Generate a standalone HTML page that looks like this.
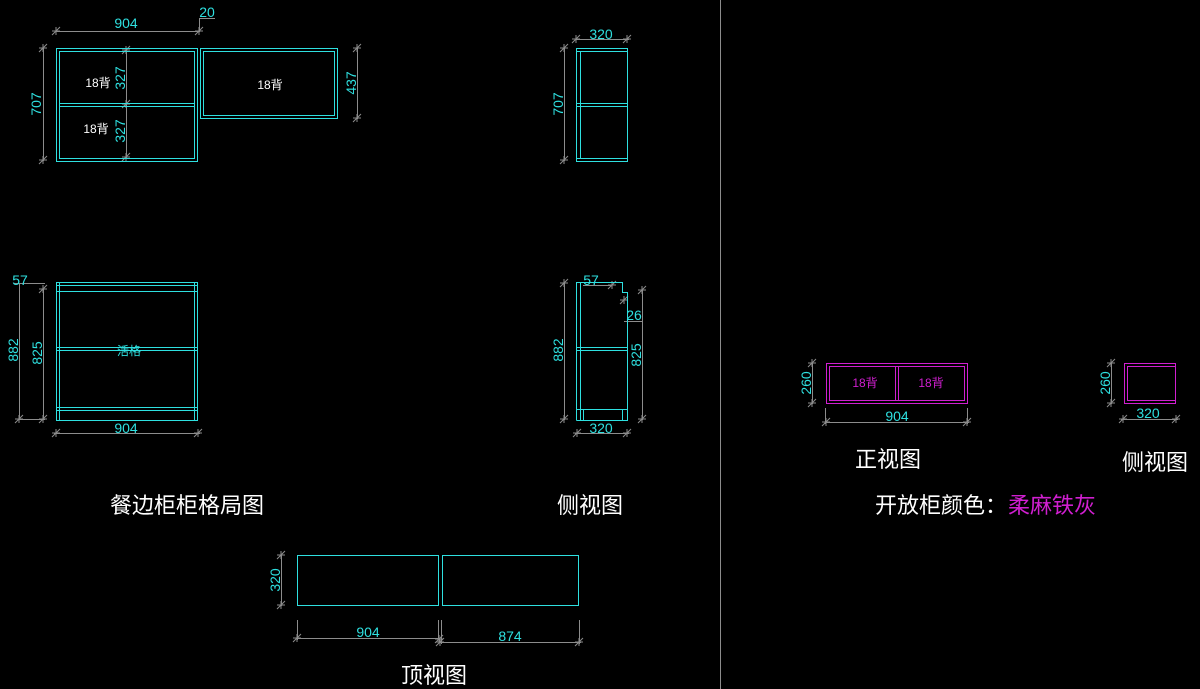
<!DOCTYPE html>
<html><head><meta charset="utf-8"><style>
html,body{margin:0;padding:0;background:#000;width:1200px;height:689px;overflow:hidden}
svg{display:block}
text{font-family:"Liberation Sans","Noto Sans CJK SC",sans-serif}
</style></head><body>
<svg width="1200" height="689" viewBox="0 0 1200 689" xmlns="http://www.w3.org/2000/svg">
<defs><path id="t" d="M-4,4 L4,-4 M0,-4 L0,4 M-4,0 L4,0" stroke="#8c8c8c" fill="none"/></defs>
<g fill="none" stroke="#8c8c8c" stroke-width="1">
<line x1="720.5" y1="0" x2="720.5" y2="689"/>
<line x1="55" y1="31.5" x2="200" y2="31.5"/><line x1="199.5" y1="31" x2="199.5" y2="18"/><line x1="199" y1="18.5" x2="215" y2="18.5"/>
<line x1="43.5" y1="47" x2="43.5" y2="161"/>
<line x1="126.5" y1="50" x2="126.5" y2="158"/>
<line x1="357.5" y1="47" x2="357.5" y2="119"/>
<line x1="575" y1="39.5" x2="629" y2="39.5"/>
<line x1="564.5" y1="47" x2="564.5" y2="161"/>
<line x1="19.5" y1="283" x2="19.5" y2="420"/><line x1="43.5" y1="289" x2="43.5" y2="420"/>
<line x1="14" y1="283.5" x2="45" y2="283.5"/><line x1="19" y1="419.5" x2="45" y2="419.5"/>
<line x1="54" y1="433.5" x2="200" y2="433.5"/>
<line x1="564.5" y1="283" x2="564.5" y2="420"/><line x1="642.5" y1="289" x2="642.5" y2="420"/>
<line x1="575" y1="433.5" x2="629" y2="433.5"/>
<line x1="583" y1="285.5" x2="612" y2="285.5"/><line x1="624" y1="321.5" x2="643" y2="321.5"/>
<line x1="281.5" y1="554" x2="281.5" y2="606"/>
<line x1="297" y1="638.5" x2="440" y2="638.5"/><line x1="440" y1="642.5" x2="581" y2="642.5"/>
<line x1="297.5" y1="620" x2="297.5" y2="640"/><line x1="438.5" y1="620" x2="438.5" y2="640"/><line x1="441.5" y1="620" x2="441.5" y2="644"/><line x1="579.5" y1="620" x2="579.5" y2="644"/>
<line x1="812.5" y1="362" x2="812.5" y2="404"/>
<line x1="825" y1="422.5" x2="969" y2="422.5"/><line x1="825.5" y1="408" x2="825.5" y2="424"/><line x1="967.5" y1="408" x2="967.5" y2="424"/>
<line x1="1111.5" y1="362" x2="1111.5" y2="404"/>
<line x1="1121" y1="419.5" x2="1178" y2="419.5"/>
</g>
<g>
<use href="#t" x="56" y="31"/><use href="#t" x="199" y="31"/>
<use href="#t" x="43" y="48"/><use href="#t" x="43" y="160"/>
<use href="#t" x="126" y="50"/><use href="#t" x="126" y="104"/><use href="#t" x="126" y="157"/>
<use href="#t" x="357" y="48"/><use href="#t" x="357" y="118"/>
<use href="#t" x="576" y="39"/><use href="#t" x="627" y="39"/>
<use href="#t" x="564" y="48"/><use href="#t" x="564" y="160"/>
<use href="#t" x="19" y="419"/><use href="#t" x="43" y="419"/><use href="#t" x="43" y="289"/>
<use href="#t" x="56" y="433"/><use href="#t" x="198" y="433"/>
<use href="#t" x="564" y="283"/><use href="#t" x="564" y="419"/><use href="#t" x="642" y="290"/><use href="#t" x="642" y="419"/>
<use href="#t" x="577" y="433"/><use href="#t" x="627" y="433"/><use href="#t" x="612" y="285"/><use href="#t" x="624" y="300"/>
<use href="#t" x="281" y="555"/><use href="#t" x="281" y="605"/>
<use href="#t" x="297" y="638"/><use href="#t" x="439" y="639"/><use href="#t" x="440" y="642"/><use href="#t" x="579" y="642"/>
<use href="#t" x="812" y="363"/><use href="#t" x="812" y="403"/><use href="#t" x="826" y="422"/><use href="#t" x="967" y="422"/>
<use href="#t" x="1111" y="363"/><use href="#t" x="1111" y="403"/><use href="#t" x="1123" y="419"/><use href="#t" x="1176" y="419"/>
</g>
<g fill="none" stroke="#2ee0e0" stroke-width="1">
<rect x="56.5" y="48.5" width="141" height="113"/><rect x="59.5" y="51.5" width="135" height="107"/>
<line x1="59" y1="103.5" x2="195" y2="103.5"/><line x1="59" y1="106.5" x2="195" y2="106.5"/>
<rect x="200.5" y="48.5" width="137" height="70"/><rect x="203.5" y="51.5" width="131" height="64"/>
<rect x="576.5" y="48.5" width="51" height="113"/><line x1="580.5" y1="51" x2="580.5" y2="158"/>
<line x1="577" y1="51.5" x2="627" y2="51.5"/><line x1="577" y1="158.5" x2="627" y2="158.5"/>
<line x1="577" y1="103.5" x2="627" y2="103.5"/><line x1="577" y1="106.5" x2="627" y2="106.5"/>
<rect x="56.5" y="282.5" width="141" height="138"/><line x1="59.5" y1="283" x2="59.5" y2="420"/><line x1="194.5" y1="283" x2="194.5" y2="420"/>
<line x1="57" y1="285.5" x2="197" y2="285.5"/><line x1="57" y1="291.5" x2="197" y2="291.5"/>
<line x1="57" y1="347.5" x2="197" y2="347.5"/><line x1="57" y1="350.5" x2="197" y2="350.5"/>
<line x1="57" y1="407.5" x2="197" y2="407.5"/><line x1="57" y1="410.5" x2="197" y2="410.5"/>
<polyline points="576.5,420.5 576.5,282.5 622.5,282.5 622.5,292.5 627.5,292.5 627.5,420.5 576.5,420.5"/>
<line x1="580.5" y1="283" x2="580.5" y2="420"/>
<line x1="577" y1="347.5" x2="627" y2="347.5"/><line x1="577" y1="350.5" x2="627" y2="350.5"/>
<line x1="577" y1="409.5" x2="627" y2="409.5"/><line x1="583.5" y1="410" x2="583.5" y2="420"/><line x1="622.5" y1="410" x2="622.5" y2="420"/>
<rect x="297.5" y="555.5" width="141" height="50"/><rect x="442.5" y="555.5" width="136" height="50"/>
</g>
<g fill="none" stroke="#d01fd0" stroke-width="1">
<rect x="826.5" y="363.5" width="141" height="40"/><rect x="829.5" y="366.5" width="135" height="34"/>
<line x1="895.5" y1="366" x2="895.5" y2="401"/><line x1="898.5" y1="366" x2="898.5" y2="401"/>
<rect x="1124.5" y="363.5" width="51" height="40"/><rect x="1127.5" y="366.5" width="48" height="34"/>
</g>
<g fill="#2ee0e0" font-size="14">
<text x="126" y="28" text-anchor="middle">904</text>
<text x="207" y="17" text-anchor="middle">20</text>
<text transform="translate(41,104) rotate(-90)" text-anchor="middle">707</text>
<text transform="translate(125,78) rotate(-90)" text-anchor="middle">327</text>
<text transform="translate(125,131) rotate(-90)" text-anchor="middle">327</text>
<text transform="translate(356,83) rotate(-90)" text-anchor="middle">437</text>
<text x="601" y="39" text-anchor="middle">320</text>
<text transform="translate(563,104) rotate(-90)" text-anchor="middle">707</text>
<text x="20" y="285" text-anchor="middle">57</text>
<text transform="translate(18,350) rotate(-90)" text-anchor="middle">882</text>
<text transform="translate(42,353) rotate(-90)" text-anchor="middle">825</text>
<text x="129" y="355" text-anchor="middle" font-size="12">活格</text>
<text x="126" y="433" text-anchor="middle">904</text>
<text x="591" y="285" text-anchor="middle">57</text>
<text x="634" y="320" text-anchor="middle">26</text>
<text transform="translate(563,350) rotate(-90)" text-anchor="middle">882</text>
<text transform="translate(641,355) rotate(-90)" text-anchor="middle">825</text>
<text x="601" y="433" text-anchor="middle">320</text>
<text transform="translate(280,580) rotate(-90)" text-anchor="middle">320</text>
<text x="368" y="637" text-anchor="middle">904</text>
<text x="510" y="641" text-anchor="middle">874</text>
<text transform="translate(811,383) rotate(-90)" text-anchor="middle">260</text>
<text x="897" y="421" text-anchor="middle">904</text>
<text transform="translate(1110,383) rotate(-90)" text-anchor="middle">260</text>
<text x="1148" y="418" text-anchor="middle">320</text>
</g>
<g fill="#ffffff" font-size="12" font-family="Liberation Serif,Noto Serif CJK SC,serif">
<text x="98" y="87" text-anchor="middle">18背</text>
<text x="96" y="133" text-anchor="middle">18背</text>
<text x="270" y="89" text-anchor="middle">18背</text>
</g>
<g fill="#d01fd0" font-size="12" font-family="Liberation Serif,Noto Serif CJK SC,serif">
<text x="865" y="387" text-anchor="middle">18背</text>
<text x="931" y="387" text-anchor="middle">18背</text>
</g>
<g fill="#ffffff" font-size="22">
<text x="187" y="513" text-anchor="middle">餐边柜柜格局图</text>
<text x="590" y="513" text-anchor="middle">侧视图</text>
<text x="434" y="683" text-anchor="middle">顶视图</text>
<text x="888" y="467" text-anchor="middle">正视图</text>
<text x="1155" y="470" text-anchor="middle">侧视图</text>
<text x="875" y="513">开放柜颜色：</text>
<text x="1008" y="513" fill="#d01fd0">柔麻铁灰</text>
</g>
</svg>
</body></html>
